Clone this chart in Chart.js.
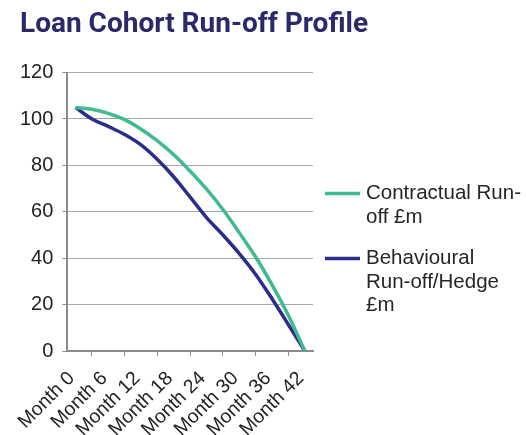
<!DOCTYPE html>
<html lang="en">
<head>
    <meta charset="UTF-8">
    <title>Loan Cohort Run-off Profile</title>
    <style>
        html, body { margin: 0; padding: 0; background: #fff; }
        #wrap { width: 526px; height: 435px; }
    </style>
</head>
<body>
    <div id="wrap"><canvas id="runoff"></canvas></div>

    <script src="https://cdn.jsdelivr.net/npm/chart.js@4.4.1/dist/chart.umd.min.js"></script>
    <script>
        // months since origination, one point every quarter
        const months = [0, 3, 6, 9, 12, 15, 18, 21, 24, 27, 30, 33, 36, 39, 42];
        const categories = months.map(m => "Month " + m);

        // balances in £m
        const contractual = [105, 104.2, 102.4, 99.7, 95.6, 90.6, 84.6, 77.5, 69.8, 61, 51, 40.5, 28.5, 15.3, 0];
        const behavioural = [105, 100, 96.8, 93.3, 88.8, 82.5, 75, 66.3, 57.5, 50, 42, 33, 22.5, 11.3, 0];

        const seriesNames = ["Contractual Run-off £m", "Behavioural Run-off/Hedge £m"];
        const legendLines = [["Contractual Run-", "off £m"], ["Behavioural", "Run-off/Hedge", "£m"]];
        const yTicks = [0, 20, 40, 60, 80, 100, 120];

        const green = "#3fbb8e";
        const navy = "#2b2d8c";
        const axisGrey = "#8c8c8c";
        const font = "Arial, 'Liberation Sans', Helvetica, sans-serif";

        // wrapped legend on the right, drawn straight on the canvas
        const sideLegend = {
            id: "sideLegend",
            afterLayout(chart) {
                // title lines up with the value labels
                chart.titleBlock.left = 20;
            },
            afterDraw(chart) {
                const ctx = chart.ctx;
                const area = chart.chartArea;
                const x0 = area.right + 12;
                let y = area.top + 121;
                const lineH = 23.5;
                ctx.save();
                ctx.font = "20.5px " + font;
                ctx.textBaseline = "middle";
                ctx.fillStyle = "#262626";
                chart.data.datasets.forEach((ds, i) => {
                    ctx.strokeStyle = ds.borderColor;
                    ctx.lineWidth = 3.5;
                    ctx.beginPath();
                    ctx.moveTo(x0, y);
                    ctx.lineTo(x0 + 35, y);
                    ctx.stroke();
                    legendLines[i].forEach((t, k) => {
                        ctx.fillText(t, x0 + 41, y + k * lineH);
                    });
                    y += legendLines[i].length * lineH + 18;
                });
                ctx.restore();
            }
        };

        new Chart(document.getElementById("runoff"), {
            type: "line",
            plugins: [sideLegend],
            data: {
                labels: categories,
                datasets: [
                    {
                        label: seriesNames[0],
                        data: contractual,
                        borderColor: green,
                        backgroundColor: green,
                        borderWidth: 3.5,
                        pointRadius: 0,
                        tension: 0.35
                    },
                    {
                        label: seriesNames[1],
                        data: behavioural,
                        borderColor: navy,
                        backgroundColor: navy,
                        borderWidth: 3.5,
                        pointRadius: 0,
                        tension: 0.35
                    }
                ]
            },
            options: {
                responsive: true,
                maintainAspectRatio: false,
                animation: false,
                layout: { padding: { left: 11, right: 12, top: 0, bottom: 0 } },
                plugins: {
                    legend: { display: false },
                    tooltip: { enabled: false },
                    title: {
                        display: true,
                        text: "Loan Cohort Run-off Profile",
                        align: "start",
                        color: "#29296b",
                        font: { family: "Roboto, Arial, sans-serif", size: 28, weight: "bold" },
                        padding: { top: 8, bottom: 31 }
                    }
                },
                scales: {
                    x: {
                        offset: true,
                        // month labels may hang under the value axis, and the band below is fixed
                        afterFit: s => { s.paddingLeft = 0; s.height = 84; },
                        grid: {
                            display: true,
                            drawOnChartArea: false,
                            offset: true,
                            color: axisGrey,
                            tickLength: 5
                        },
                        border: { color: axisGrey, width: 2 },
                        ticks: {
                            autoSkip: false,
                            maxRotation: 45,
                            minRotation: 45,
                            padding: 11,
                            labelOffset: -4,
                            color: "#222",
                            font: { family: font, size: 19.5 },
                            callback: (v, i) => (i % 2 === 0 ? categories[i] : null)
                        }
                    },
                    y: {
                        min: yTicks[0],
                        max: yTicks[yTicks.length - 1],
                        afterBuildTicks: axis => { axis.ticks = yTicks.map(v => ({ value: v })); },
                        grid: { color: "#a6a6a6", lineWidth: 1, tickLength: 5, tickColor: axisGrey },
                        border: { color: axisGrey, width: 2 },
                        ticks: {
                            padding: 9,
                            color: "#222",
                            font: { family: font, size: 20 }
                        }
                    },
                    // empty band on the right that the legend is drawn into
                    side: {
                        position: "right",
                        afterFit: s => { s.width = 201; },
                        grid: { display: false, drawTicks: false },
                        border: { display: false },
                        ticks: { display: false }
                    }
                }
            }
        });
    </script>
</body>
</html>
